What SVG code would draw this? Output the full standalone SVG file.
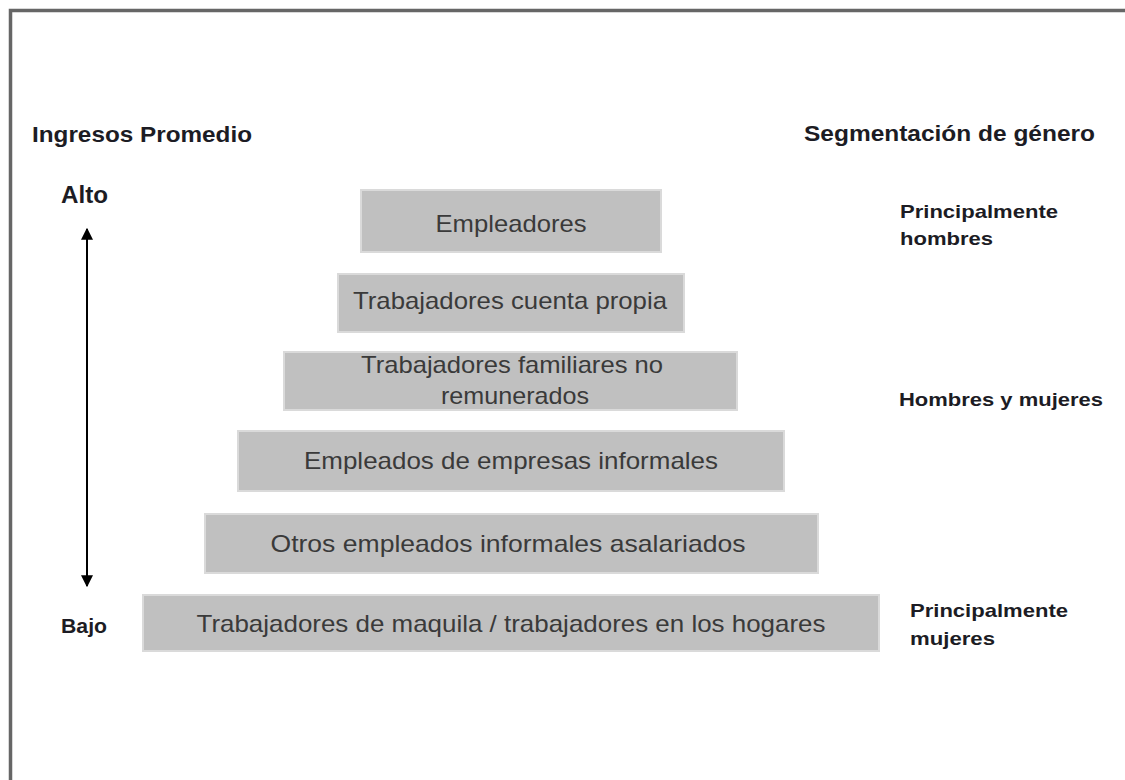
<svg xmlns="http://www.w3.org/2000/svg" width="1125" height="780" viewBox="0 0 1125 780">
<style>
.box{fill:#c0c0c0;stroke:#dadada;stroke-width:2}
.bt{font-family:"Liberation Sans",Arial,sans-serif;font-size:24px;fill:#3a3a3a;text-anchor:middle}
.hd{font-family:"Liberation Sans",Arial,sans-serif;font-weight:bold;fill:#1c1c24}
</style>
<defs>
<marker id="ah" viewBox="0 0 10 10" refX="9" refY="5" markerWidth="6" markerHeight="6" orient="auto-start-reverse">
<path d="M0,0 L10,5 L0,10 z" fill="#000"/>
</marker>
</defs>
<rect width="1125" height="780" fill="#fff"/>
<path d="M10.5,782 V10.5 H1127" fill="none" stroke="#666" stroke-width="3.5"/>

<g id="labels">
<text class="hd" x="32" y="142" font-size="22" textLength="220" lengthAdjust="spacingAndGlyphs">Ingresos Promedio</text>
<text class="hd" x="804" y="141" font-size="22" textLength="291" lengthAdjust="spacingAndGlyphs">Segmentación de género</text>
<text class="hd" x="61" y="203" font-size="23" textLength="47" lengthAdjust="spacingAndGlyphs">Alto</text>
<text class="hd" x="61" y="633" font-size="21" textLength="46" lengthAdjust="spacingAndGlyphs">Bajo</text>
<text class="hd" x="900" y="218" font-size="19" textLength="158" lengthAdjust="spacingAndGlyphs">Principalmente</text>
<text class="hd" x="900" y="245" font-size="19" textLength="93" lengthAdjust="spacingAndGlyphs">hombres</text>
<text class="hd" x="899" y="406" font-size="19" textLength="204" lengthAdjust="spacingAndGlyphs">Hombres y mujeres</text>
<text class="hd" x="910" y="617" font-size="19" textLength="158" lengthAdjust="spacingAndGlyphs">Principalmente</text>
<text class="hd" x="910" y="645" font-size="19" textLength="85" lengthAdjust="spacingAndGlyphs">mujeres</text>
</g>

<g id="n1"><rect class="box" x="361" y="190" width="300" height="62"/><text class="bt" x="511" y="232" textLength="151" lengthAdjust="spacingAndGlyphs">Empleadores</text></g>
<g id="n2"><rect class="box" x="338" y="274" width="346" height="58"/><text class="bt" x="510" y="309" textLength="314" lengthAdjust="spacingAndGlyphs">Trabajadores cuenta propia</text></g>
<g id="n3"><rect class="box" x="284" y="352" width="453" height="58"/><text class="bt" x="512" y="373" textLength="302" lengthAdjust="spacingAndGlyphs">Trabajadores familiares no</text><text class="bt" x="515" y="404" textLength="148" lengthAdjust="spacingAndGlyphs">remunerados</text></g>
<g id="n4"><rect class="box" x="238" y="431" width="546" height="60"/><text class="bt" x="511" y="469" textLength="414" lengthAdjust="spacingAndGlyphs">Empleados de empresas informales</text></g>
<g id="n5"><rect class="box" x="205" y="514" width="613" height="59"/><text class="bt" x="508" y="552" textLength="475" lengthAdjust="spacingAndGlyphs">Otros empleados informales asalariados</text></g>
<g id="n6"><rect class="box" x="143" y="595" width="736" height="56"/><text class="bt" x="511" y="632" textLength="629" lengthAdjust="spacingAndGlyphs">Trabajadores de maquila / trabajadores en los hogares</text></g>

<g id="connectors">
<line x1="87" y1="229" x2="87" y2="586" stroke="#000" stroke-width="2" marker-start="url(#ah)" marker-end="url(#ah)"/>
</g>
</svg>
